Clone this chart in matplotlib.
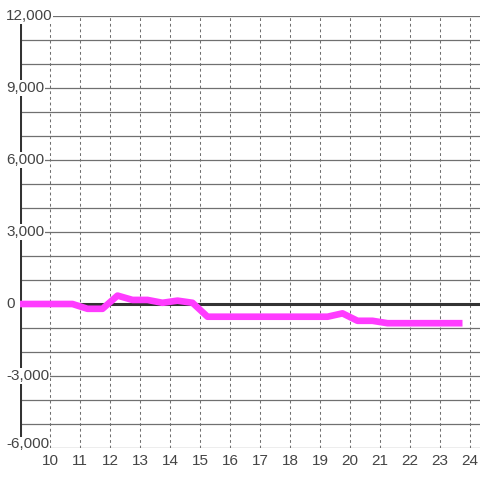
import matplotlib
matplotlib.use('Agg')
import matplotlib.pyplot as plt

plt.rcParams['font.family'] = ['Liberation Sans', 'DejaVu Sans']

# 시간대별 값
hours = [9.0, 10.75, 11.25, 11.75, 12.25, 12.75, 13.25, 13.75, 14.25, 14.75,
         15.25, 15.75, 16.25, 16.75, 17.25, 17.75, 18.25, 18.75, 19.25, 19.75,
         20.25, 20.75, 21.25, 21.75, 22.25, 22.75, 23.25, 23.75]
values = [0, 0, -200, -200, 350, 170, 170, 50, 140, 50,
          -530, -530, -530, -530, -530, -530, -530, -530, -530, -390,
          -700, -700, -800, -800, -800, -800, -800, -800]

x_ticks = list(range(10, 25))
y_labels = [12000, 9000, 6000, 3000, 0, -3000, -6000]
y_grid = range(-6000, 12001, 1000)

fig = plt.figure(figsize=(4.8, 4.8), dpi=100)
fig.patch.set_facecolor('white')
ax = fig.add_axes([20 / 480, 32 / 480, 460 / 480, 432 / 480])
ax.set_facecolor('white')
ax.set_xlim(9.0, 9.0 + 460 / 30)
ax.set_ylim(-6000, 12000)

for s in ax.spines.values():
    s.set_visible(False)

# 격자선
for yv in y_grid:
    if yv == 0:
        continue
    ax.axhline(yv, color='#707070', lw=0.9, zorder=1)
for xv in x_ticks:
    ax.axvline(xv, color='#707070', lw=0.75, ls=(0, (2.7, 2.7)), zorder=1)

ax.axhline(0, color='#333333', lw=2.2, zorder=2)
ax.axvline(9.0, color='#333333', lw=2.2, zorder=2)

ax.plot(hours, values, color='#ff3cff', lw=4.8, solid_joinstyle='round',
        solid_capstyle='butt', zorder=3, clip_on=False)

ax.set_yticks([])
ax.set_xticks(x_ticks)
ax.set_xticklabels([str(v) for v in x_ticks], fontsize=11, color='#444444')
ax.tick_params(axis='x', length=0, pad=4)

for yv in y_labels:
    # 맨 아래 라벨은 약간 위로
    shift = 150 if yv == -6000 else 0
    ax.text(-14 / 460, yv + shift, f'{yv:,}', transform=ax.get_yaxis_transform(),
            ha='left', va='center', fontsize=11, color='#444444', zorder=5,
            bbox=dict(facecolor='white', edgecolor='none', pad=0.5), clip_on=False)

fig.savefig('out.png', dpi=100)
